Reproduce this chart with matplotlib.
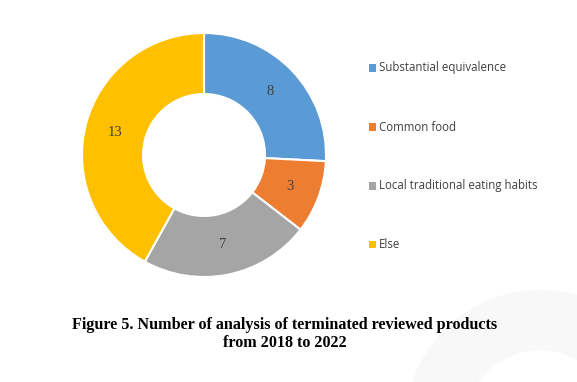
import matplotlib
matplotlib.use("Agg")
import matplotlib.pyplot as plt
from matplotlib.patches import Wedge
import numpy as np

categories = ["Substantial equivalence", "Common food", "Local traditional eating habits", "Else"]
values = [8, 3, 7, 13]
colors = ["#5B9BD5", "#ED7D31", "#A5A5A5", "#FFC000"]
caption = "Figure 5. Number of analysis of terminated reviewed products\nfrom 2018 to 2022"

W, H = 577, 382
fig = plt.figure(figsize=(W / 100, H / 100), dpi=100)
fig.patch.set_facecolor("white")

# faint background watermark
bg = fig.add_axes([0, 0, 1, 1])
bg.set_xlim(0, W)
bg.set_ylim(H, 0)
bg.axis("off")
bg.add_patch(Wedge((540, 425), 135, 180, 330, width=60, facecolor="#f8f8f8", edgecolor="none"))

cx, cy, r = 204, 155, 122
ax = fig.add_axes([(cx - r) / W, (H - cy - r) / H, 2 * r / W, 2 * r / H])
wedges, _ = ax.pie(values, colors=colors, startangle=90, counterclock=False,
                   radius=1.0, wedgeprops=dict(width=0.5, edgecolor="white", linewidth=1.5))
ax.set_xlim(-1, 1)
ax.set_ylim(-1, 1)
ax.set_aspect("equal")
ax.axis("off")

total = sum(values)
ang = 90.0
for v in values:
    mid = ang - v / total * 180.0
    ang -= v / total * 360.0
    t = np.deg2rad(mid)
    ax.text(0.75 * np.cos(t), 0.75 * np.sin(t), str(v), ha="center", va="center",
            fontsize=10.5, color="#404040", family="Liberation Serif")

# legend
leg_y = [68, 127, 186, 244]
for yy, lab, c in zip(leg_y, categories, colors):
    fig.patches.append(plt.Rectangle((369 / W, (H - yy - 3.5) / H), 7 / W, 7 / H,
                                     transform=fig.transFigure, facecolor=c, edgecolor="none"))
    fig.text(379 / W, (H - yy) / H, lab, ha="left", va="center", fontsize=8.3,
             color="#404040", family="Open Sans")

fig.text(285 / W, (H - 334) / H, caption, ha="center", va="center", fontsize=11.6,
         fontweight="bold", family="Liberation Serif", linespacing=1.17, color="black")

fig.savefig("out.png", dpi=100)
